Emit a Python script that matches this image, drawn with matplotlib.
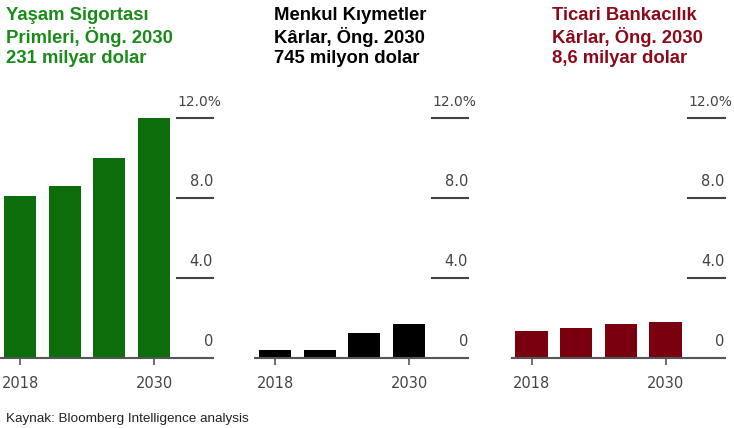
import matplotlib.pyplot as plt

years = [2018, 2022, 2026, 2030]
year_labels = ["2018", "", "", "2030"]
life_premiums = [8.1, 8.6, 10.0, 12.0]
securities_profit = [0.4, 0.4, 1.25, 1.7]
banking_profit = [1.35, 1.5, 1.7, 1.8]

grid_vals = [0, 4, 8, 12]
grid_labels = ["0", "4.0", "8.0", "12.0%"]

panels = [
    ("Yaşam Sigortası\nPrimleri, Öng. 2030\n231 milyar dolar", life_premiums,
     "#0b6e0b", "#1a8a1a", 0, 6),
    ("Menkul Kıymetler\nKârlar, Öng. 2030\n745 milyon dolar", securities_profit,
     "#000000", "#000000", 255, 274),
    ("Ticari Bankacılık\nKârlar, Öng. 2030\n8,6 milyar dolar", banking_profit,
     "#7a0010", "#8b0a1a", 511.5, 552),
]

W, H = 734, 428
fig = plt.figure(figsize=(W / 100, H / 100), dpi=100)

for title, vals, bar_col, title_col, left_px, title_px in panels:
    ax = fig.add_axes([left_px / W, 1 - 358 / H, 213 / W, 240 / H])
    x = list(range(len(vals)))
    ax.bar(x, vals, width=0.72, color=bar_col, zorder=2)
    ax.set_xlim(-0.448, 4.32)
    ax.set_ylim(0, 12)
    for s in ["top", "right", "left"]:
        ax.spines[s].set_visible(False)
    ax.spines["bottom"].set_color("#555555")
    ax.spines["bottom"].set_linewidth(1.5)
    ax.set_yticks([])
    ax.set_xticks([0, 3])
    ax.set_xticklabels([year_labels[0], year_labels[3]])
    ax.tick_params(axis="x", length=5, width=1.2, color="#555555",
                   labelcolor="#444444", labelsize=10.5, pad=8)
    tr = ax.get_yaxis_transform()
    for v, lab in zip(grid_vals, grid_labels):
        if v > 0:
            ax.plot([0.83, 1.0], [v, v], color="#444444", lw=1.5,
                    transform=tr, clip_on=False)
        if lab.endswith("%"):
            # the percent sign hangs past the end of the line
            ax.text(0.832, v + 0.45, lab, transform=tr, ha="left",
                    va="bottom", fontsize=10, color="#444444")
        else:
            ax.text(1.0, v + 0.45, lab, transform=tr, ha="right",
                    va="bottom", fontsize=10.5, color="#444444")
    fig.text(title_px / W, 1 - 7 / H, title, ha="left", va="top",
             fontsize=13.3, fontweight="bold", color=title_col,
             family="Liberation Sans", linespacing=1.2)

fig.text(6 / W, 1 - 419 / H, "Kaynak: Bloomberg Intelligence analysis",
         ha="left", va="center", fontsize=9.7, color="#222222",
         family="Liberation Sans")

fig.savefig("out.png", dpi=100)
